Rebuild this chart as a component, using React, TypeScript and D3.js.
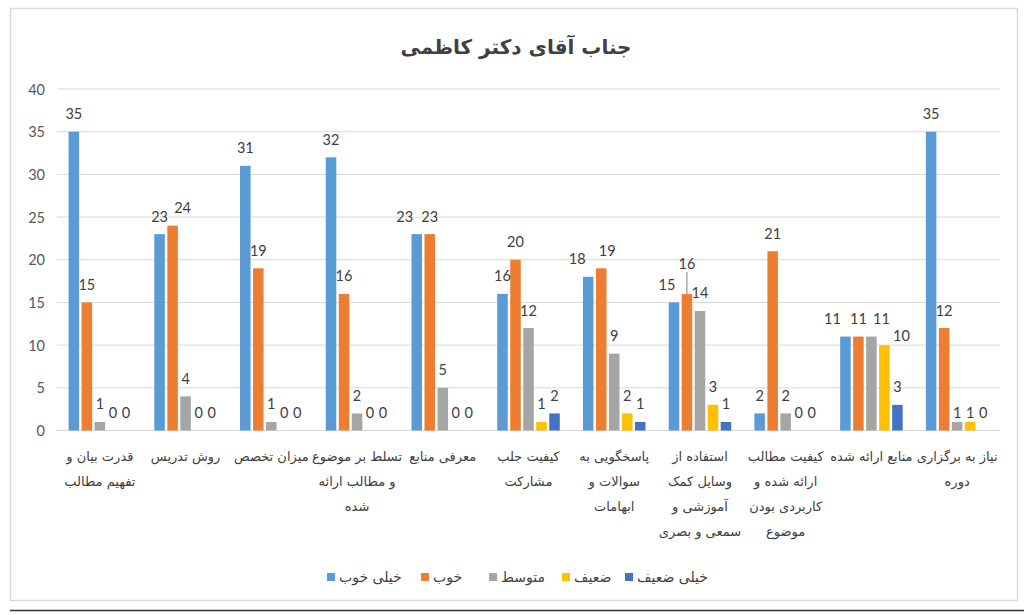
import React from 'react';
import * as d3 from 'd3';

// chart values
const categories: string[][] = [
  ['قدرت بیان و', 'تفهیم مطالب'],
  ['روش تدریس'],
  ['میزان تخصص'],
  ['تسلط بر موضوع', 'و مطالب ارائه', 'شده'],
  ['معرفی منابع'],
  ['کیفیت جلب', 'مشارکت'],
  ['پاسخگویی به', 'سوالات و', 'ابهامات'],
  ['استفاده از', 'وسایل کمک', 'آموزشی و', 'سمعی و بصری'],
  ['کیفیت مطالب', 'ارائه شده و', 'کاربردی بودن', 'موضوع'],
  ['منابع ارائه شده'],
  ['نیاز به برگزاری', 'دوره'],
];

const seriesNames = ['خیلی خوب', 'خوب', 'متوسط', 'ضعیف', 'خیلی ضعیف'];

const veryGood = [35, 23, 31, 32, 23, 16, 18, 15, 2, 11, 35];
const good = [15, 24, 19, 16, 23, 20, 19, 16, 21, 11, 12];
const average = [1, 4, 1, 2, 5, 12, 9, 14, 2, 11, 1];
const weak = [0, 0, 0, 0, 0, 1, 2, 3, 0, 10, 1];
const veryWeak = [0, 0, 0, 0, 0, 2, 1, 1, 0, 3, 0];

const yTicks = [0, 5, 10, 15, 20, 25, 30, 35, 40];

const title = 'جناب آقای دکتر کاظمی';

const seriesValues = [veryGood, good, average, weak, veryWeak];
const colors = ['#5B9BD5', '#ED7D31', '#A5A5A5', '#FFC000', '#4472C4'];

// hand nudges Excel applied to a few labels: key "cat-series" -> [dx, dy, leader]
const labelNudges: Record<string, [number, number, boolean?]> = {
  '1-1': [10, 0],
  '4-0': [-12, 0],
  '6-0': [-11, 0],
  '6-1': [6, 0],
  '7-0': [-7, 0],
  '7-1': [0, -12, true],
  '9-0': [-13, 0],
  '9-2': [10, 0],
  '9-3': [17, 8],
  '10-2': [0, 9],
  '10-3': [0, 9],
};

const W = 1024;
const H = 615;
const plotLeft = 57;
const plotRight = 1000;

// legend entry left edges (square then text)
const legendX = [327, 421, 489, 562, 625];

const latin = 'Lato, "DejaVu Sans", sans-serif';
const persian = '"DejaVu Sans", sans-serif';

export default function App() {
  const idx = categories.map((_, i) => String(i));
  const x0 = d3.scaleBand<string>().domain(idx).range([plotLeft, plotRight]).padding(0);
  const x1 = d3
    .scaleBand<string>()
    .domain(seriesNames)
    .range([0, x0.bandwidth()])
    .paddingInner(0.19)
    .paddingOuter(0.89);
  const y = d3.scaleLinear().domain([0, 40]).range([430.5, 89]);

  return (
    <svg width={W} height={H} style={{ position: 'absolute', left: 0, top: 0, background: '#fff' }}>
      <rect x={10.5} y={8.5} width={1007} height={592} fill="#fff" stroke="#d9d9d9" strokeWidth={1.5} />
      <line x1={10} x2={W} y1={610.5} y2={610.5} stroke="#333" strokeWidth={1.5} />

      <text
        x={516}
        y={47}
        textAnchor="middle"
        dominantBaseline="central"
        fontFamily={persian}
        fontWeight="bold"
        fontSize={20}
        fill="#404040"
      >
        {title}
      </text>

      {/* grid + y ticks */}
      {yTicks.map((t) => (
        <g key={t}>
          <line x1={plotLeft} x2={plotRight} y1={y(t)} y2={y(t)} stroke="#d9d9d9" strokeWidth={1} />
          <text
            x={45}
            y={y(t)}
            textAnchor="end"
            dominantBaseline="central"
            fontFamily={latin}
            fontSize={14.5}
            fill="#595959"
          >
            {t}
          </text>
        </g>
      ))}

      {/* bars */}
      {categories.map((_, c) => (
        <g key={c} transform={`translate(${x0(String(c))},0)`}>
          {seriesNames.map((s, si) => {
            const v = seriesValues[si][c];
            return (
              <rect
                key={s}
                x={x1(s)!}
                y={y(v)}
                width={x1.bandwidth()}
                height={y(0) - y(v)}
                fill={colors[si]}
              />
            );
          })}
        </g>
      ))}

      {/* data labels */}
      {categories.map((_, c) =>
        seriesNames.map((s, si) => {
          const v = seriesValues[si][c];
          const cx = x0(String(c))! + x1(s)! + x1.bandwidth() / 2;
          const nudge = labelNudges[`${c}-${si}`] || [0, 0];
          const ly = y(v) - 18 + nudge[1];
          return (
            <g key={`${c}-${si}`}>
              {nudge[2] && (
                <line x1={cx} x2={cx} y1={ly + 8} y2={y(v)} stroke="#7f7f7f" strokeWidth={1} />
              )}
              <text
                x={cx + nudge[0]}
                y={ly}
                textAnchor="middle"
                dominantBaseline="central"
                fontFamily={latin}
                fontSize={14.5}
                fill="#404040"
              >
                {v}
              </text>
            </g>
          );
        })
      )}

      {/* category labels */}
      {categories.map((lines, c) => {
        const cx = x0(String(c))! + x0.bandwidth() / 2;
        return (
          <text key={c} textAnchor="middle" fontFamily={persian} fontSize={13} fill="#404040">
            {lines.map((ln, li) => (
              <tspan key={li} x={cx} y={456 + li * 25} dominantBaseline="central">
                {ln}
              </tspan>
            ))}
          </text>
        );
      })}

      {/* legend */}
      {seriesNames.map((name, i) => (
        <g key={name}>
          <rect x={legendX[i]} y={573} width={8} height={8} fill={colors[i]} />
          <text
            x={legendX[i] + 12}
            y={577}
            textAnchor="start"
            dominantBaseline="central"
            fontFamily={persian}
            fontSize={14}
            fill="#404040"
          >
            {name}
          </text>
        </g>
      ))}
    </svg>
  );
}
